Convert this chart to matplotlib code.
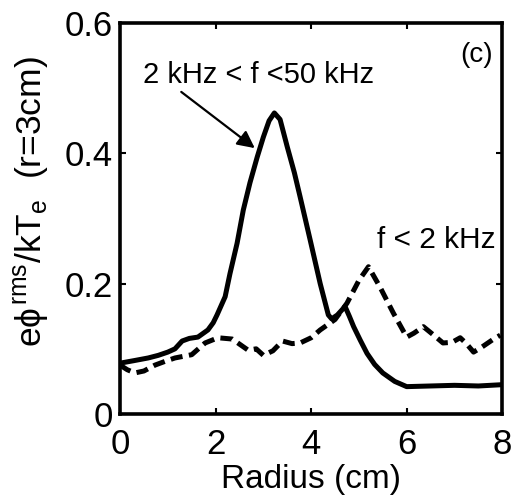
import matplotlib.pyplot as plt
import numpy as np

plt.rcParams['font.family'] = ['Liberation Sans', 'DejaVu Sans']
plt.rcParams['mathtext.fontset'] = 'custom'
plt.rcParams['mathtext.rm'] = 'Liberation Sans'
plt.rcParams['mathtext.it'] = 'Liberation Sans'

# solid curve: 2 kHz < f < 50 kHz
r_band = [0.0, 0.3, 0.59, 0.8, 1.0, 1.15, 1.3, 1.45, 1.63, 1.84, 1.95, 2.03, 2.2, 2.3, 2.45,
          2.58, 2.72, 2.87, 3.0, 3.12, 3.23, 3.35, 3.5, 3.65, 3.77, 3.98, 4.19, 4.36, 4.43,
          4.55, 4.71, 4.8, 4.89, 5.03, 5.17, 5.33, 5.5, 5.75, 6.0, 6.5, 7.0, 7.5, 8.0]
phi_band = [0.078, 0.082, 0.086, 0.090, 0.095, 0.100, 0.112, 0.116, 0.118, 0.129, 0.140, 0.152,
            0.180, 0.215, 0.262, 0.313, 0.355, 0.394, 0.425, 0.450, 0.462, 0.452, 0.410, 0.370,
            0.333, 0.267, 0.200, 0.152, 0.146, 0.152, 0.165, 0.150, 0.134, 0.113, 0.093, 0.076,
            0.063, 0.050, 0.042, 0.043, 0.044, 0.043, 0.045]

# dashed curve: f < 2 kHz
r_low = [0.0, 0.15, 0.31, 0.5, 0.73, 0.95, 1.15, 1.5, 1.78, 2.05, 2.35, 2.68, 2.85, 3.0, 3.2,
         3.4, 3.6, 3.77, 4.0, 4.19, 4.5, 4.75, 5.0, 5.2, 5.44, 5.72, 6.0, 6.15, 6.35, 6.55,
         6.76, 6.95, 7.12, 7.25, 7.4, 7.58, 7.8, 7.96]
phi_low = [0.075, 0.068, 0.063, 0.066, 0.075, 0.081, 0.086, 0.091, 0.109, 0.117, 0.115, 0.098,
           0.100, 0.090, 0.097, 0.112, 0.108, 0.109, 0.117, 0.129, 0.145, 0.170, 0.205, 0.226,
           0.195, 0.155, 0.118, 0.124, 0.134, 0.122, 0.109, 0.110, 0.117, 0.108, 0.095, 0.103,
           0.114, 0.121]

fig = plt.figure(figsize=(5.13, 5.0), dpi=100)
ax = fig.add_axes([0.234, 0.172, 0.745, 0.782])

ax.plot(r_band, phi_band, color='black', lw=3.6, solid_joinstyle='round', solid_capstyle='butt')
ax.plot(r_low, phi_low, color='black', lw=3.6, dashes=(2.4, 1.3))

ax.set_xlim(0, 8)
ax.set_ylim(0, 0.6)
ax.set_xticks([0, 2, 4, 6, 8])
ax.set_yticks([0, 0.2, 0.4, 0.6])
ax.set_yticklabels(['0', '0.2', '0.4', '0.6'])
ax.tick_params(direction='in', length=4, width=1.5, labelsize=25, top=True, right=True)
ax.tick_params(axis='x', pad=10)
ax.tick_params(axis='y', pad=5)
for s in ax.spines.values():
    s.set_linewidth(2.6)

ax.set_xlabel('Radius (cm)', fontsize=24, labelpad=2)
ax.set_ylabel(r'e$\phi^{\rm rms}$/kT$_{\rm e}$  (r=3cm)', fontsize=25.5)
ax.yaxis.set_label_coords(-0.18, 0.542)

ax.annotate('2 kHz < f <50 kHz', xy=(2.82, 0.408), xytext=(0.48, 0.52), fontsize=21,
            ha='left', va='center',
            arrowprops=dict(arrowstyle='-|>', color='black', lw=1.6, mutation_scale=26,
                            shrinkA=0, shrinkB=0, relpos=(0.15, 0.0)))
ax.text(5.38, 0.267, 'f < 2 kHz', fontsize=21.5, ha='left', va='center')
ax.text(7.8, 0.551, '(c)', fontsize=20, ha='right', va='center')

fig.savefig('out.png', dpi=100)
